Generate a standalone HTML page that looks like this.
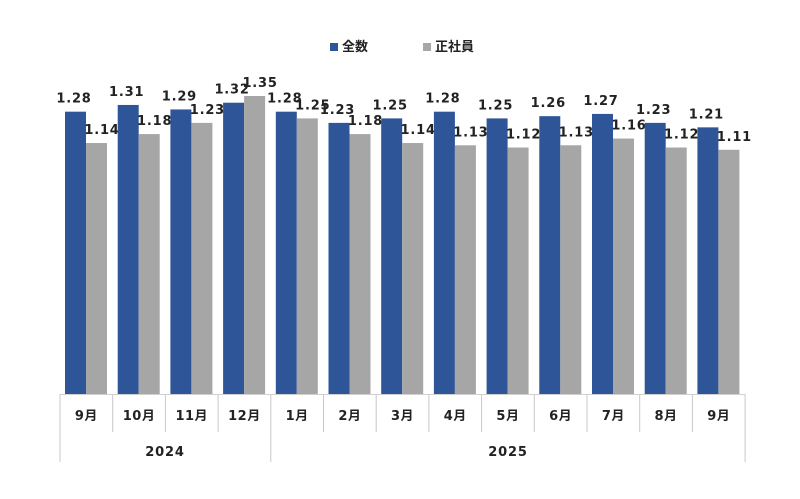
<!DOCTYPE html>
<html><head><meta charset="utf-8"><style>
body{margin:0;background:#fff;}
text{font-family:"DejaVu Sans","Noto Sans CJK JP",sans-serif;font-weight:bold;fill:#222;}
</style></head><body>
<svg width="800" height="494" xmlns="http://www.w3.org/2000/svg">
<rect x="330" y="43" width="8" height="8" fill="#2e5597"/>
<text x="342" y="51" font-size="13">全数</text>
<rect x="423" y="43" width="8" height="8" fill="#a6a6a6"/>
<text x="435" y="51" font-size="13">正社員</text>
<g id="bars"></g>
<line x1="60" y1="394.5" x2="745" y2="394.5" stroke="#d0d0d0"/>
</svg>
<script>
var b=[1.28,1.31,1.29,1.32,1.28,1.23,1.25,1.28,1.25,1.26,1.27,1.23,1.21];
var g=[1.14,1.18,1.23,1.35,1.25,1.18,1.14,1.13,1.12,1.13,1.16,1.12,1.11];
var m=["9月","10月","11月","12月","1月","2月","3月","4月","5月","6月","7月","8月","9月"];
var s="";
function y(v){return 96+(1.35-v)*224;}
var p=52.7,x0=60;
for(var i=0;i<13;i++){
 var x=x0+i*p+5;
 s+='<rect x="'+x+'" y="'+y(b[i])+'" width="21" height="'+(394-y(b[i]))+'" fill="#2e5597"/>';
 s+='<rect x="'+(x+21)+'" y="'+y(g[i])+'" width="21" height="'+(394-y(g[i]))+'" fill="#a6a6a6"/>';
 s+='<text x="'+(x+9)+'" y="'+(y(b[i])-9)+'" font-size="13" letter-spacing="0.8" text-anchor="middle">'+b[i].toFixed(2)+'</text>';
 s+='<text x="'+(x+37)+'" y="'+(y(g[i])-9)+'" font-size="13" letter-spacing="0.8" text-anchor="middle">'+g[i].toFixed(2)+'</text>';
 s+='<text x="'+(x0+i*p+p/2)+'" y="420" font-size="13" letter-spacing="0.5" text-anchor="middle">'+m[i]+'</text>';
}
for(var i=0;i<=13;i++){
 var xx=x0+i*p, long=(i==0||i==4||i==13);
 s+='<line x1="'+xx+'" y1="394" x2="'+xx+'" y2="'+(long?462:432)+'" stroke="#c8c8c8"/>';
}
s+='<text x="165" y="456" font-size="13" letter-spacing="0.8" text-anchor="middle">2024</text>';
s+='<text x="508" y="456" font-size="13" letter-spacing="0.8" text-anchor="middle">2025</text>';
document.getElementById('bars').innerHTML=s;
</script>
</body></html>
